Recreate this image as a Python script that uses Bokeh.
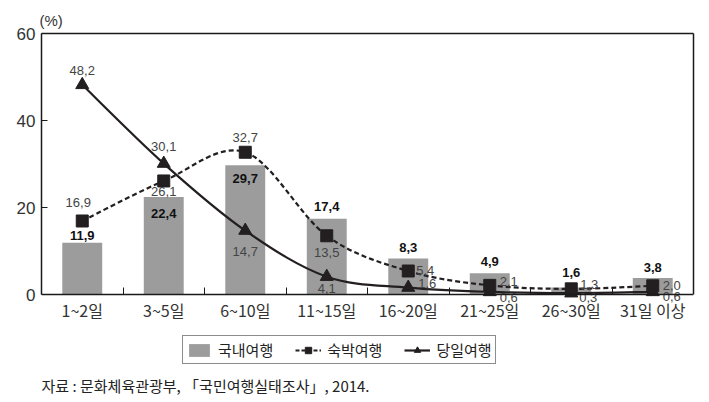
from bokeh.plotting import figure
from bokeh.models import (ColumnDataSource, FixedTicker, Legend, LegendItem, Title, Range1d,
                          LinearAxis, Label)
from bokeh.core.properties import value
from bokeh.embed import file_html
from bokeh.resources import INLINE

categories = ["1~2일", "3~5일", "6~10일", "11~15일", "16~20일", "21~25일", "26~30일", "31일 이상"]
domestic = [11.9, 22.4, 29.7, 17.4, 8.3, 4.9, 1.6, 3.8]     # 국내여행
overnight = [16.9, 26.1, 32.7, 13.5, 5.4, 2.1, 1.3, 2.0]    # 숙박여행
daytrip = [48.2, 30.1, 14.7, 4.1, 1.6, 0.6, 0.3, 0.6]       # 당일여행
y_ticks = [0, 20, 40, 60]
series_names = ["국내여행", "숙박여행", "당일여행"]
unit_text = "(%)"
source_note = "자료 : 문화체육관광부, 「국민여행실태조사」, 2014."

# label offsets (screen px) - styling only
bar_off = [(0, -7), (0, 16), (0, 13), (0, -12), (0, -11), (0, -12), (0, -15), (0, -10)]
ovn_off = [(-4, -18), (0, 11), (0, -15), (0, 17), (17, -1), (19, -4), (18, -4), (19, 0)]
day_off = [(0, -14), (0, -17), (0, 21), (0, 12), (19, -4), (19, 6), (17, 4), (19, 5)]

W, H = 709, 402
TOP, LEFT, RIGHT = 33, 41, 16
AXIS_Y = 294          # pixel row of the value axis zero line
Y_MAX = 60
y_min = -Y_MAX * (H - AXIS_Y) / (AXIS_Y - TOP)   # frame extends below zero to hold legend / note

xs = [i + 0.5 for i in range(len(categories))]
fmt = lambda v: f"{v:.1f}".replace(".", ",")

p = figure(width=W, height=H, x_range=Range1d(0, len(categories)), y_range=Range1d(y_min, Y_MAX),
           output_backend="svg", toolbar_location=None)
p.min_border = 0
p.min_border_left = LEFT
p.min_border_right = RIGHT
p.min_border_top = TOP
p.min_border_bottom = 0
p.background_fill_color = "white"
p.border_fill_color = "white"
p.outline_line_color = None
p.grid.visible = False

ink = "#1a1a1a"

# unit label as title above
p.title = Title(text=unit_text, align="left", offset=-2, standoff=9,
                text_font="Liberation Sans", text_font_size="15px",
                text_color="#333333", text_font_style="normal")

# category axis sitting at value zero
xa = p.xaxis[0]
xa.fixed_location = 0
xa.ticker = FixedTicker(ticks=xs, minor_ticks=list(range(1, len(categories))))
xa.major_label_overrides = {x: c for x, c in zip(xs, categories)}
xa.major_tick_in = 0
xa.major_tick_out = 0
xa.minor_tick_in = 7
xa.minor_tick_out = 0
xa.minor_tick_line_color = ink
xa.axis_line_color = ink
xa.axis_line_width = 1.5
xa.major_label_text_font = "Noto Sans CJK KR"
xa.major_label_text_font_size = "16px"
xa.major_label_text_color = "#333333"
xa.major_label_standoff = 3

ya = p.yaxis[0]
ya.bounds = (0, Y_MAX)
ya.ticker = FixedTicker(ticks=y_ticks)
ya.major_tick_in = 6
ya.major_tick_out = 0
ya.minor_tick_line_color = None
ya.axis_line_color = ink
ya.axis_line_width = 1.5
ya.major_tick_line_color = ink
ya.major_label_text_font = "Liberation Sans"
ya.major_label_text_font_size = "17px"
ya.major_label_text_color = "#333333"
ya.major_label_standoff = 6

def frame_axis(**kw):
    ax = LinearAxis(ticker=FixedTicker(ticks=[]), major_tick_in=0, major_tick_out=0,
                    minor_tick_in=0, minor_tick_out=0, major_label_standoff=0,
                    axis_line_color=ink, axis_line_width=1.5, **kw)
    return ax

p.add_layout(frame_axis(), "above")
p.add_layout(frame_axis(bounds=(0, Y_MAX)), "right")

# bars
bar_src = ColumnDataSource(dict(x=xs, top=domestic))
bars = p.vbar(x="x", top="top", bottom=0, width=0.49, source=bar_src,
              fill_color="#9c9c9c", line_color=None)

def bezier_src(vals):
    n = len(vals)
    d = dict(x0=[], y0=[], x1=[], y1=[], cx0=[], cy0=[], cx1=[], cy1=[])
    for i in range(n - 1):
        pm = (xs[max(i - 1, 0)], vals[max(i - 1, 0)])
        p0 = (xs[i], vals[i])
        p1 = (xs[i + 1], vals[i + 1])
        p2 = (xs[min(i + 2, n - 1)], vals[min(i + 2, n - 1)])
        d["x0"].append(p0[0]); d["y0"].append(p0[1])
        d["x1"].append(p1[0]); d["y1"].append(p1[1])
        d["cx0"].append(p0[0] + (p1[0] - pm[0]) / 6); d["cy0"].append(p0[1] + (p1[1] - pm[1]) / 6)
        d["cx1"].append(p1[0] - (p2[0] - p0[0]) / 6); d["cy1"].append(p1[1] - (p2[1] - p0[1]) / 6)
    return ColumnDataSource(d)

mk = "#231f20"
p.bezier(x0="x0", y0="y0", x1="x1", y1="y1", cx0="cx0", cy0="cy0", cx1="cx1", cy1="cy1",
         source=bezier_src(overnight), line_color=mk, line_width=2.2, line_dash="5 3")
p.bezier(x0="x0", y0="y0", x1="x1", y1="y1", cx0="cx0", cy0="cy0", cx1="cx1", cy1="cy1",
         source=bezier_src(daytrip), line_color=mk, line_width=2.2)

ovn_src = ColumnDataSource(dict(x=xs, y=overnight))
day_src = ColumnDataSource(dict(x=xs, y=daytrip))
sq = p.scatter(x="x", y="y", source=ovn_src, marker="square", size=12, fill_color=mk, line_color=mk)
tri = p.scatter(x="x", y="y", source=day_src, marker="triangle", size=13, fill_color=mk, line_color=mk)

# legend helpers: line renderers holding one NaN point (draw nothing in the plot)
nan = float("nan")
leg_dash = p.line(x=[nan], y=[nan], line_color=mk, line_width=2.2, line_dash="4 2")
leg_solid = p.line(x=[nan], y=[nan], line_color=mk, line_width=2.2)

# value labels
def add_labels(vals, offs, color, style):
    src = ColumnDataSource(dict(x=xs, y=vals, t=[fmt(v) for v in vals],
                                dx=[o[0] for o in offs], dy=[o[1] for o in offs]))
    p.text(x="x", y="y", text="t", x_offset="dx", y_offset="dy", source=src,
           text_font=value("Liberation Sans"), text_font_size="13px", text_color=color,
           text_font_style=style, text_align="center", text_baseline="middle")

add_labels(domestic, bar_off, "#111111", "bold")
add_labels(overnight, ovn_off, "#444444", "normal")
add_labels(daytrip, day_off, "#444444", "normal")

legend = Legend(items=[
    LegendItem(label=series_names[0], renderers=[bars]),
    LegendItem(label=series_names[1], renderers=[leg_dash, sq]),
    LegendItem(label=series_names[2], renderers=[leg_solid, tri]),
], orientation="horizontal", location=(141, 38))
legend.label_text_font = "Noto Sans CJK KR"
legend.label_text_font_size = "15px"
legend.label_text_color = "#222222"
legend.border_line_color = ink
legend.border_line_width = 1.2
legend.background_fill_alpha = 1
legend.padding = 3
legend.spacing = 22
legend.glyph_width = 26
legend.glyph_height = 16
legend.label_standoff = 6
legend.margin = 0
p.add_layout(legend, "center")

p.add_layout(Label(x=0, y=17, x_units="screen", y_units="screen", text=source_note,
                   text_font="Noto Sans CJK KR", text_font_size="15px", text_color="#222222",
                   text_baseline="middle"))

open("out.html", "w").write(file_html(p, INLINE))
